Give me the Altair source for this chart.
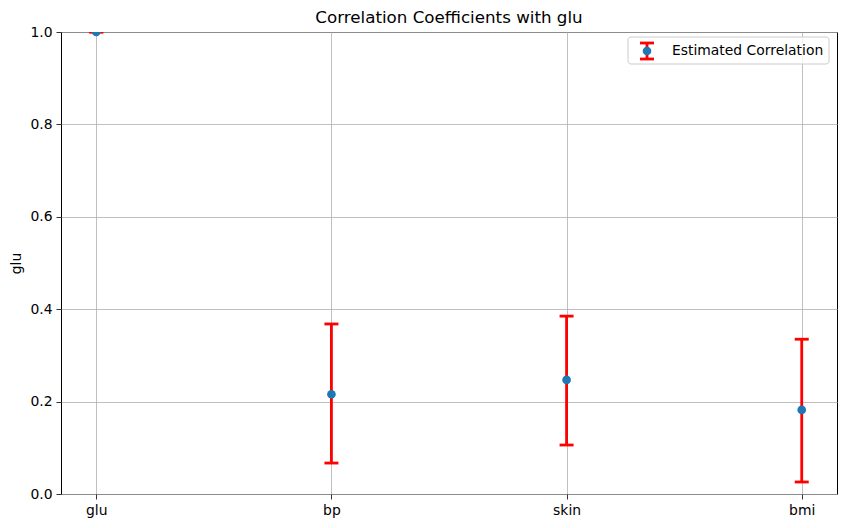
import altair as alt
import pandas as pd

variables = ["glu", "bp", "skin", "bmi"]
estimates = [1.0, 0.216, 0.247, 0.182]
lower = [1.0, 0.067, 0.106, 0.026]
upper = [1.0, 0.368, 0.385, 0.335]

df = pd.DataFrame({"var": variables, "est": estimates, "lo": lower, "hi": upper})

FONT = "DejaVu Sans"
FS = 13.9
x_enc = alt.X("var:N", sort=variables, title=None,
              scale=alt.Scale(type="point", padding=0.15),
              axis=alt.Axis(labelAngle=0, grid=True, gridColor="#b0b0b0", gridWidth=0.8,
                            domain=False, tickColor="black", tickSize=5, tickWidth=0.8,
                            labelPadding=4, labelFontSize=FS, labelColor="black",
                            labelFont=FONT))
y_scale = alt.Scale(domain=[0, 1], nice=False, zero=False)
y_axis = alt.Axis(values=[0, 0.2, 0.4, 0.6, 0.8, 1.0], format=".1f", grid=True,
                  gridColor="#b0b0b0", gridWidth=0.8, domain=False, tickColor="black",
                  tickSize=5, tickWidth=0.8, labelPadding=4, labelFontSize=FS,
                  labelColor="black", labelFont=FONT, title="glu", titleFont=FONT,
                  titleFontSize=FS, titleFontWeight="normal", titleColor="black",
                  titlePadding=6)

base = alt.Chart(df)

rules = base.mark_rule(color="red", strokeWidth=2.8, clip=True).encode(
    x=x_enc, y=alt.Y("lo:Q", scale=y_scale, axis=y_axis), y2="hi:Q")
cap_lo = base.mark_tick(color="red", size=14, thickness=2.8, opacity=1, clip=True).encode(
    x=alt.X("var:N", sort=variables), y=alt.Y("lo:Q"))
cap_hi = base.mark_tick(color="red", size=14, thickness=2.8, opacity=1, clip=True).encode(
    x=alt.X("var:N", sort=variables), y=alt.Y("hi:Q"))
pts = base.mark_circle(color="#1f77b4", size=75, opacity=1, clip=True).encode(
    x=alt.X("var:N", sort=variables), y=alt.Y("est:Q"))

# legend (hand-built)
leg = pd.DataFrame({"label": ["Estimated Correlation"]})
lbase = alt.Chart(leg)
leg_box = lbase.mark_rect(fill="white", fillOpacity=0.8, stroke="#cccccc",
                          strokeWidth=1, cornerRadius=3).encode(
    x=alt.value(567), x2=alt.value(768), y=alt.value(5), y2=alt.value(32))
leg_line = lbase.mark_rule(color="red", strokeWidth=2.8).encode(
    x=alt.value(586), y=alt.value(11), y2=alt.value(27))
leg_cap1 = lbase.mark_rule(color="red", strokeWidth=2.8).encode(
    x=alt.value(579), x2=alt.value(593), y=alt.value(11))
leg_cap2 = lbase.mark_rule(color="red", strokeWidth=2.8).encode(
    x=alt.value(579), x2=alt.value(593), y=alt.value(27))
leg_dot = lbase.mark_circle(color="#1f77b4", size=75, opacity=1).encode(
    x=alt.value(586), y=alt.value(19))
leg_text = lbase.mark_text(align="left", baseline="middle", font=FONT, fontSize=FS,
                           color="black").encode(
    x=alt.value(611), y=alt.value(19), text="label:N")

chart = alt.layer(rules, cap_lo, cap_hi, pts, leg_box, leg_line, leg_cap1, leg_cap2,
                  leg_dot, leg_text).properties(
    width=776, height=462,
    title=alt.TitleParams("Correlation Coefficients with glu", font=FONT, fontSize=16.7,
                          fontWeight="normal", color="black", anchor="middle", offset=-2),
    autosize=alt.AutoSizeParams(type="none"),
    padding={"left": 53, "top": 24, "right": 1, "bottom": 26},
).configure_view(stroke="black", strokeWidth=1)

chart.save("out.html", embed_options={"renderer": "svg", "actions": False})
